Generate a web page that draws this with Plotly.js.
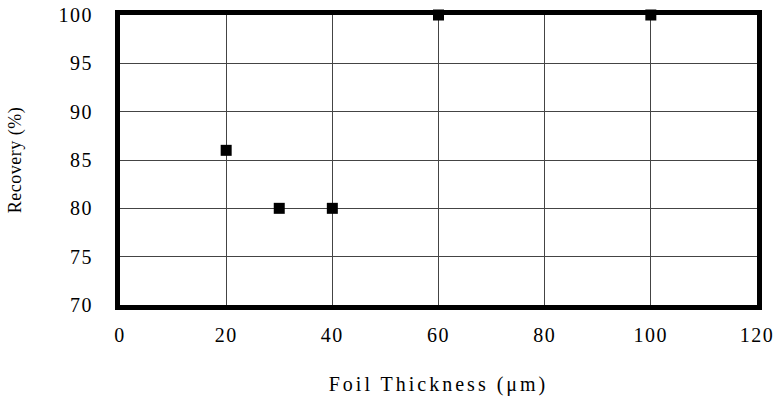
<!DOCTYPE html>
<html>
<head>
<meta charset="utf-8">
<script src="https://cdn.plot.ly/plotly-3.0.1.min.js"></script>
<style>
html,body{margin:0;padding:0;background:#fff;}
#chart{width:780px;height:396px;}
.xtick text, .ytick text{letter-spacing:1.5px;}
.g-xtitle text{letter-spacing:3px;}
.g-ytitle text{letter-spacing:0.5px;}
</style>
</head>
<body>
<div id="chart"></div>
<script>
var thickness = [20, 30, 40, 60, 100];
var recovery = [86, 80, 80, 100, 100];
var xTicks = [0, 20, 40, 60, 80, 100, 120];
var yTicks = [70, 75, 80, 85, 90, 95, 100];

var trace = {
  x: thickness,
  y: recovery,
  type: 'scatter',
  mode: 'markers',
  marker: {symbol: 'square', size: 11, color: '#000'},
  cliponaxis: false,
  showlegend: false
};

var fam = 'Liberation Serif, Times New Roman, serif';

var layout = {
  width: 780,
  height: 396,
  margin: {l: 120, r: 23, t: 15, b: 91},
  paper_bgcolor: '#fff',
  plot_bgcolor: '#fff',
  font: {family: fam, color: '#000'},
  xaxis: {
    range: [0, 120],
    tickvals: xTicks,
    ticktext: xTicks.map(String),
    showgrid: true,
    gridcolor: '#444',
    gridwidth: 1,
    zeroline: false,
    showline: true,
    linewidth: 5,
    linecolor: '#000',
    mirror: true,
    ticks: '',
    ticklen: 0,
    ticklabelstandoff: 8,
    tickfont: {family: fam, size: 20, color: '#000'},
    title: {text: 'Foil Thickness (\u03bcm)', font: {family: fam, size: 20, color: '#000'}, standoff: 36}
  },
  yaxis: {
    range: [70, 100],
    tickvals: yTicks,
    ticktext: yTicks.map(String),
    showgrid: true,
    gridcolor: '#444',
    gridwidth: 1,
    zeroline: false,
    showline: true,
    linewidth: 5,
    linecolor: '#000',
    mirror: true,
    ticks: '',
    ticklen: 0,
    ticklabelstandoff: 18,
    tickfont: {family: fam, size: 20, color: '#000'},
    title: {text: 'Recovery (%)', font: {family: fam, size: 18, color: '#000'}, standoff: 34}
  }
};

Plotly.newPlot('chart', [trace], layout, {displayModeBar: false, staticPlot: true});
</script>
</body>
</html>
